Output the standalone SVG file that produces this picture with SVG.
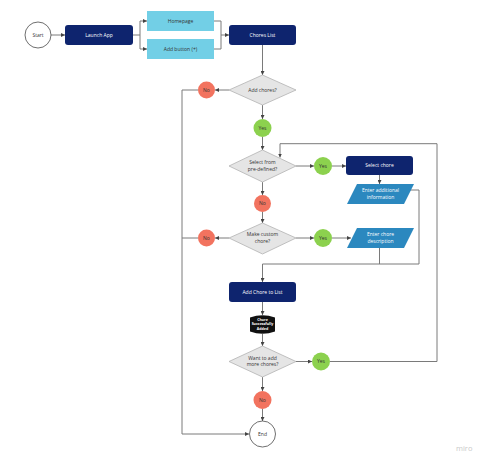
<svg xmlns="http://www.w3.org/2000/svg" width="482" height="462" viewBox="0 0 482 462">
<style>
.bg{fill:#ffffff}
.line{fill:none;stroke:#7a7a7a;stroke-width:1;stroke-linejoin:round}
.navy{fill:#0e246e}
.light{fill:#72cfe6}
.para{fill:#2b88bf}
.dia{fill:#e5e5e5;stroke:#b3b3b3;stroke-width:0.8}
.yes{fill:#8cd14e}
.no{fill:#f2735f}
.term{fill:#ffffff;stroke:#4a4a4a;stroke-width:0.8}
text{font-family:"Open Sans","Noto Sans","Liberation Sans",sans-serif;font-size:5px;text-anchor:middle}
.w{fill:#ffffff}
.d{fill:#333333}
.s{font-size:3.6px;font-weight:bold;fill:#ffffff}
.miro{font-size:7.5px;fill:#c9c9c9;text-anchor:start}
</style>
<defs>
<marker id="arr" viewBox="0 0 6 6" refX="6" refY="3" markerWidth="4" markerHeight="4" orient="auto" markerUnits="userSpaceOnUse">
<path d="M0,0 L6,3 L0,6 Z" fill="#444444"/>
</marker>
</defs>
<rect class="bg" x="0" y="0" width="482" height="462"/>
<g id="connectors">
<path class="line" d="M51,35 H65" marker-end="url(#arr)"/>
<path class="line" d="M133,35 H140 V21 H147" marker-end="url(#arr)"/>
<path class="line" d="M140,35 V49 H147" marker-end="url(#arr)"/>
<path class="line" d="M214,21 H221 V35 H229" marker-end="url(#arr)"/>
<path class="line" d="M214,49 H221 V35"/>
<path class="line" d="M262.5,45 V75" marker-end="url(#arr)"/>
<path class="line" d="M229,90 H215" marker-end="url(#arr)"/>
<path class="line" d="M198,90 H182 V434 H249" marker-end="url(#arr)"/>
<path class="line" d="M262.5,105 V119" marker-end="url(#arr)"/>
<path class="line" d="M262.5,137 V150" marker-end="url(#arr)"/>
<path class="line" d="M296,166 H314" marker-end="url(#arr)"/>
<path class="line" d="M332,166 H346" marker-end="url(#arr)"/>
<path class="line" d="M379.5,175 V184" marker-end="url(#arr)"/>
<path class="line" d="M410,190 H419 V264 H262.5 V282" marker-end="url(#arr)"/>
<path class="line" d="M262.5,182 V195" marker-end="url(#arr)"/>
<path class="line" d="M262.5,212 V223" marker-end="url(#arr)"/>
<path class="line" d="M229,238 H215" marker-end="url(#arr)"/>
<path class="line" d="M198,238 H182"/>
<path class="line" d="M296,238 H314" marker-end="url(#arr)"/>
<path class="line" d="M332,238 H351" marker-end="url(#arr)"/>
<path class="line" d="M379.5,248 V264"/>
<path class="line" d="M262.5,302 V315" marker-end="url(#arr)"/>
<path class="line" d="M262.5,334 V346" marker-end="url(#arr)"/>
<path class="line" d="M296,361.5 H312" marker-end="url(#arr)"/>
<path class="line" d="M330,361.5 H437 V143.7 H280 V157.5" marker-end="url(#arr)"/>
<path class="line" d="M262.5,377 V391" marker-end="url(#arr)"/>
<path class="line" d="M262.5,409 V421" marker-end="url(#arr)"/>
</g>
<g id="start"><circle class="term" cx="38" cy="35" r="13"/><text class="d" x="38" y="36.8">Start</text></g>
<g id="launch-app"><rect class="navy" x="65" y="25" width="68" height="20" rx="3"/><text class="w" x="99" y="36.8">Launch App</text></g>
<g id="homepage"><rect class="light" x="147" y="11" width="67" height="20"/><text class="d" x="180.5" y="22.8">Homepage</text></g>
<g id="add-button"><rect class="light" x="147" y="39" width="67" height="20"/><text class="d" x="180.5" y="50.8">Add button (+)</text></g>
<g id="chores-list"><rect class="navy" x="229" y="25" width="67" height="20" rx="3"/><text class="w" x="262.5" y="36.8">Chores List</text></g>
<g id="add-chores"><polygon class="dia" points="262.5,75 296,90 262.5,105 229,90"/><text class="d" x="262.5" y="91.8">Add chores?</text></g>
<g id="no-1"><circle class="no" cx="206.5" cy="90" r="8.5"/><text class="d" x="206.5" y="91.8">No</text></g>
<g id="yes-1"><circle class="yes" cx="262.5" cy="128" r="9"/><text class="d" x="262.5" y="129.8">Yes</text></g>
<g id="select-predefined"><polygon class="dia" points="262.5,150 296,166 262.5,182 229,166"/><text class="d" x="262.5" y="164.2">Select from</text><text class="d" x="262.5" y="170.8">pre-defined?</text></g>
<g id="yes-2"><circle class="yes" cx="323" cy="166" r="9"/><text class="d" x="323" y="167.8">Yes</text></g>
<g id="select-chore"><rect class="navy" x="346" y="156" width="67" height="19" rx="3"/><text class="w" x="379.5" y="167.3">Select chore</text></g>
<g id="enter-additional"><polygon class="para" points="357,184 414,184 404,204 347,204"/><text class="w" x="380.5" y="192.3">Enter additional</text><text class="w" x="380.5" y="198.6">information</text></g>
<g id="no-2"><circle class="no" cx="262.5" cy="203.5" r="8.5"/><text class="d" x="262.5" y="205.3">No</text></g>
<g id="make-custom"><polygon class="dia" points="262.5,223 296,238 262.5,254 229,238"/><text class="d" x="262.5" y="236.2">Make custom</text><text class="d" x="262.5" y="242.8">chore?</text></g>
<g id="no-3"><circle class="no" cx="206.5" cy="238" r="8.5"/><text class="d" x="206.5" y="239.8">No</text></g>
<g id="yes-3"><circle class="yes" cx="323" cy="238" r="9"/><text class="d" x="323" y="239.8">Yes</text></g>
<g id="enter-description"><polygon class="para" points="357,228 414,228 404,248 347,248"/><text class="w" x="380.5" y="236.3">Enter chore</text><text class="w" x="380.5" y="242.6">description</text></g>
<g id="add-chore-to-list"><rect class="navy" x="229" y="282" width="67" height="20" rx="3"/><text class="w" x="262.5" y="293.8">Add Chore to List</text></g>
<g id="chore-added"><path d="M250,317.5 Q262.5,313 275,317.5 L275,331.5 Q262.5,336 250,331.5 Z" fill="#111111"/><text class="s" x="262.5" y="320.8">Chore</text><text class="s" x="262.5" y="325.3">Successfully</text><text class="s" x="262.5" y="329.8">Added</text></g>
<g id="want-more"><polygon class="dia" points="262.5,346 296,361.5 262.5,377 229,361.5"/><text class="d" x="262.5" y="359.7">Want to add</text><text class="d" x="262.5" y="366.3">more chores?</text></g>
<g id="yes-4"><circle class="yes" cx="321" cy="361.5" r="9"/><text class="d" x="321" y="363.3">Yes</text></g>
<g id="no-4"><circle class="no" cx="262.5" cy="400" r="9"/><text class="d" x="262.5" y="401.8">No</text></g>
<g id="end"><circle class="term" cx="262.5" cy="434" r="13"/><text class="d" x="262.5" y="435.8">End</text></g>
<text class="miro" x="456" y="451">miro</text>
</svg>
